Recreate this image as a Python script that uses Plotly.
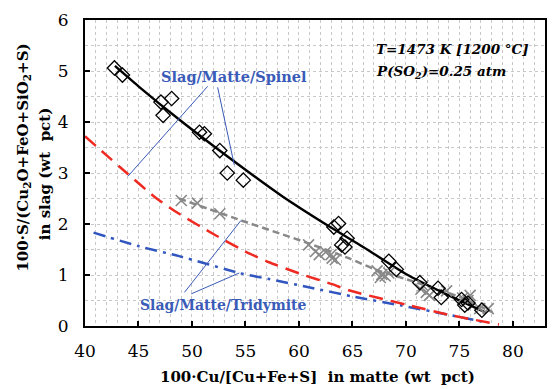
import plotly.graph_objects as go

# ---- data ----
spinel_x = [42.75, 43.5, 47.1, 47.3, 48.1, 50.7, 51.16, 52.6, 53.3, 54.8, 63.26, 63.7,
            64.5, 64.0, 64.3, 68.4, 69.1, 71.3, 73.0, 73.3, 75.2, 75.5, 75.8, 77.1]
spinel_y = [5.06, 4.92, 4.39, 4.13, 4.46, 3.80, 3.77, 3.44, 3.00, 2.86, 1.94, 2.01,
            1.72, 1.59, 1.55, 1.27, 1.11, 0.85, 0.74, 0.56, 0.52, 0.41, 0.45, 0.31]

trid_x = [49.0, 50.5, 52.6, 60.9, 61.55, 61.9, 62.5, 63.0, 63.1, 63.4, 67.3, 67.6, 67.75,
          68.06, 68.4, 71.4, 71.6, 71.9, 72.2, 73.8, 75.3, 75.8, 76.0, 76.9, 77.7]
trid_y = [2.46, 2.41, 2.20, 1.59, 1.46, 1.40, 1.45, 1.40, 1.33, 1.30, 1.08, 0.95, 1.01,
          0.98, 1.04, 0.72, 0.79, 0.66, 0.60, 0.69, 0.55, 0.50, 0.60, 0.34, 0.34]

black_x = [42.8, 45.0, 48.8, 53.8, 58.4, 63.0, 66.0, 70.0, 74.0, 77.5]
black_y = [5.10, 4.70, 4.05, 3.25, 2.55, 1.93, 1.55, 1.02, 0.60, 0.26]

grey_x = [48.8, 54.6, 60.5, 64.65, 67.1, 70.9, 75.0, 78.1]
grey_y = [2.50, 2.07, 1.65, 1.33, 1.11, 0.86, 0.57, 0.27]

red_x = [40.0, 43.9, 46.7, 48.8, 52.2, 55.0, 57.2, 60.3, 63.1, 64.65, 70.0, 74.0, 78.7]
red_y = [3.72, 3.00, 2.50, 2.20, 1.78, 1.46, 1.25, 1.01, 0.82, 0.70, 0.42, 0.22, 0.03]

blue_x = [40.8, 45.1, 48.8, 54.4, 57.2, 60.9, 65.0, 69.6, 74.0, 77.7]
blue_y = [1.83, 1.56, 1.37, 1.04, 0.92, 0.76, 0.58, 0.40, 0.22, 0.06]

x_ticks = [40, 45, 50, 55, 60, 65, 70, 75, 80]
y_ticks = [0, 1, 2, 3, 4, 5, 6]

FONT = "DejaVu Serif"
BLUE_TXT = "#3a5bb8"

fig = go.Figure()
fig.add_trace(go.Scatter(x=blue_x, y=blue_y, mode="lines", line_shape="spline",
                         line=dict(color="#3256c0", width=2.5, dash="12px,6px,3px,6px",
                                   smoothing=0.6)))
fig.add_trace(go.Scatter(x=red_x, y=red_y, mode="lines", line_shape="spline",
                         line=dict(color="#ee2a22", width=2.5, dash="14px,8px", smoothing=0.6)))
fig.add_trace(go.Scatter(x=grey_x, y=grey_y, mode="lines", line_shape="spline",
                         line=dict(color="#888888", width=2.5, dash="7px,4px", smoothing=0.6)))
fig.add_trace(go.Scatter(x=black_x, y=black_y, mode="lines", line_shape="spline",
                         line=dict(color="black", width=2.4, smoothing=0.6)))
fig.add_trace(go.Scatter(x=trid_x, y=trid_y, mode="markers",
                         marker=dict(symbol="x-thin-open", size=11, color="#888888",
                                     line=dict(color="#888888", width=1.6))))
fig.add_trace(go.Scatter(x=spinel_x, y=spinel_y, mode="markers",
                         marker=dict(symbol="diamond-open", size=11, color="black",
                                     line=dict(color="black", width=1.3))))

# leader lines
leaders = [
    (51.47, 4.70, 44.03, 2.94),
    (52.40, 4.68, 53.95, 3.16),
    (49.30, 0.66, 54.58, 2.07),
    (49.93, 0.63, 54.42, 1.04),
]
for x0, y0, x1, y1 in leaders:
    fig.add_shape(type="line", x0=x0, y0=y0, x1=x1, y1=y1, xref="x", yref="y",
                  line=dict(color="#3a5bb8", width=1))

def px2paper_x(px):
    return (px - 85) / 462

def px2paper_y(py):
    return (326 - py) / 312

annos = [
    dict(text="<b>Slag/Matte/Spinel</b>", x=px2paper_x(235), y=px2paper_y(72),
         font=dict(family=FONT, size=14.5, color=BLUE_TXT), xanchor="center", yanchor="middle"),
    dict(text="<b>Slag/Matte/Tridymite</b>", x=px2paper_x(224), y=px2paper_y(305),
         font=dict(family=FONT, size=14, color=BLUE_TXT), xanchor="center", yanchor="middle"),
    dict(text="<b><i>T=1473 K [1200 °C]</i></b>", x=px2paper_x(375), y=px2paper_y(44),
         font=dict(family=FONT, size=13.5, color="black"), xanchor="left", yanchor="middle"),
    dict(text="<b><i>P(SO<sub>2</sub>)=0.25 atm</i></b>", x=px2paper_x(375), y=px2paper_y(67),
         font=dict(family=FONT, size=13.5, color="black"), xanchor="left", yanchor="middle"),
    dict(text="<b>100·S/(Cu<sub>2</sub>O+FeO+SiO<sub>2</sub>+S)</b>", x=px2paper_x(23), y=px2paper_y(154),
         font=dict(family=FONT, size=15, color="black"), xanchor="center", yanchor="middle",
         textangle=-90),
    dict(text="<b>in slag (wt  pct)</b>", x=px2paper_x(45), y=px2paper_y(171),
         font=dict(family=FONT, size=15, color="black"), xanchor="center", yanchor="middle",
         textangle=-90),
    dict(text="<b>100·Cu/[Cu+Fe+S]  in matte (wt  pct)</b>", x=px2paper_x(319), y=px2paper_y(378),
         font=dict(family=FONT, size=15, color="black"), xanchor="center", yanchor="middle"),
]
for a in annos:
    fig.add_annotation(xref="paper", yref="paper", showarrow=False, **a)

grid_col = "#c8c8c8"
fig.update_xaxes(range=[40, 83], tickvals=x_ticks, ticktext=[str(v) for v in x_ticks],
                 ticks="inside", ticklen=5, tickwidth=1.5, tickcolor="black",
                 showline=True, linecolor="black", linewidth=2, mirror=True,
                 showgrid=True, gridcolor=grid_col, griddash="dot", gridwidth=1,
                 minor=dict(dtick=1, tick0=40, showgrid=True, gridcolor=grid_col,
                            griddash="dot", gridwidth=1),
                 zeroline=False, ticklabelstandoff=9,
                 tickfont=dict(family=FONT, size=17, color="black"))
fig.update_yaxes(range=[0, 6], tickvals=y_ticks, ticktext=[str(v) for v in y_ticks],
                 ticks="inside", ticklen=5, tickwidth=1.5, tickcolor="black",
                 showline=True, linecolor="black", linewidth=2, mirror=True,
                 showgrid=True, gridcolor=grid_col, griddash="dot", gridwidth=1,
                 minor=dict(dtick=0.5, tick0=0, showgrid=True, gridcolor=grid_col,
                            griddash="dot", gridwidth=1),
                 zeroline=False, ticklabelstandoff=11,
                 tickfont=dict(family=FONT, size=17, color="black"))

fig.update_layout(width=557, height=389, margin=dict(l=85, r=10, t=14, b=63),
                  showlegend=False, plot_bgcolor="white", paper_bgcolor="white",
                  font=dict(family=FONT))
fig.write_html("out.html")
